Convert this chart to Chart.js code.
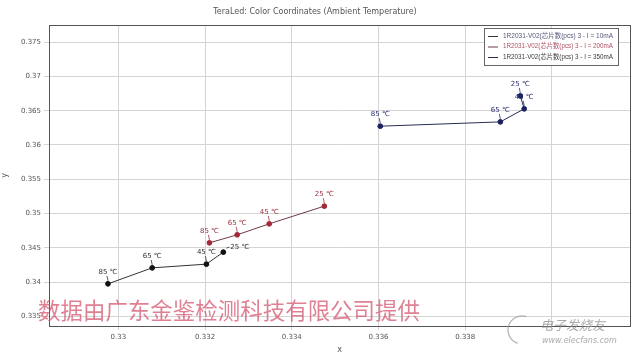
<!DOCTYPE html>
<html>
<head>
<meta charset="utf-8">
<script src="https://cdn.jsdelivr.net/npm/chart.js@4"></script>
<style>
  html, body { margin: 0; padding: 0; background: #fff; }
  #wrap { width: 640px; height: 360px; position: relative; }
</style>
</head>
<body>
<div id="wrap"><canvas id="colorChart"></canvas></div>
<script>
// temperatures of each point (deg C)
const temps = ['85', '65', '45', '25'];

// I = 10mA
const x10 = [0.32976, 0.33078, 0.33203, 0.33242];
const y10 = [0.33975, 0.34208, 0.34262, 0.34437];
// I = 200mA
const x200 = [0.3321, 0.33274, 0.33348, 0.33475];
const y200 = [0.34573, 0.3469, 0.3485, 0.35108];
// I = 350mA
const x350 = [0.33604, 0.33881, 0.33936, 0.33927];
const y350 = [0.36274, 0.36337, 0.36527, 0.36716];

const seriesNames = [
    '1R2031-V02(芯片数(pcs) 3 - I = 10mA',
    '1R2031-V02(芯片数(pcs) 3 - I = 200mA',
    '1R2031-V02(芯片数(pcs) 3 - I = 350mA'
];

const xTicks = [0.33, 0.332, 0.334, 0.336, 0.338, 0.34];
const xTickLabels = ['0.33', '0.332', '0.334', '0.336', '0.338', ''];
const yTicks = [0.335, 0.34, 0.345, 0.35, 0.355, 0.36, 0.365, 0.37, 0.375];
const yTickLabels = ['0.335', '0.34', '0.345', '0.35', '0.355', '0.36', '0.365', '0.37', '0.375'];

const watermark = '数据由广东金鉴检测科技有限公司提供';

function toPoints(xs, ys) {
    return xs.map(function(x, i) { return { x: x, y: ys[i] }; });
}

const labelColors = ['#333333', '#a03444', '#2a3070'];
const legendTextColors = ['#55597a', '#b05262', '#3a3a3a'];

// point labels like "85 ℃", drawn under the markers
const pointLabels = {
    id: 'pointLabels',
    beforeDatasetsDraw: function(chart) {
        const ctx = chart.ctx;
        ctx.save();
        ctx.font = '7px "DejaVu Sans", sans-serif';
        ctx.textBaseline = 'middle';
        chart.data.datasets.forEach(function(ds, di) {
            const meta = chart.getDatasetMeta(di);
            meta.data.forEach(function(pt, i) {
                const text = temps[i] + ' ℃';
                ctx.fillStyle = labelColors[di];
                ctx.strokeStyle = labelColors[di];
                ctx.lineWidth = 0.8;
                if (di === 0 && i === 3) {
                    ctx.textAlign = 'left';
                    ctx.beginPath();
                    ctx.moveTo(pt.x + 3, pt.y - 4);
                    ctx.lineTo(pt.x + 6, pt.y - 5);
                    ctx.stroke();
                    ctx.fillText(text, pt.x + 7, pt.y - 5);
                } else {
                    ctx.textAlign = 'center';
                    ctx.fillText(text, pt.x, pt.y - 12);
                    ctx.beginPath();
                    ctx.moveTo(pt.x - 1, pt.y - 8);
                    ctx.lineTo(pt.x, pt.y - 3);
                    ctx.stroke();
                }
            });
        });
        ctx.restore();
    }
};

// frame, legend box, watermark and logo
const extras = {
    id: 'extras',
    afterDraw: function(chart) {
        const ctx = chart.ctx;
        const a = chart.chartArea;
        ctx.save();
        ctx.strokeStyle = '#555';
        ctx.lineWidth = 1;
        ctx.strokeRect(Math.round(a.left) + 0.5, Math.round(a.top) + 0.5,
            Math.round(a.right - a.left), Math.round(a.bottom - a.top));

        // legend in the upper right corner
        const bx = 484, by = 28, bw = 134, bh = 37;
        ctx.fillStyle = '#fff';
        ctx.fillRect(bx, by, bw, bh);
        ctx.strokeStyle = '#666';
        ctx.strokeRect(bx + 0.5, by + 0.5, bw, bh);
        ctx.font = '6.5px "Liberation Sans", "Noto Sans CJK SC", sans-serif';
        ctx.textBaseline = 'middle';
        ctx.textAlign = 'left';
        chart.data.datasets.forEach(function(ds, i) {
            const ly = by + 8 + i * 10.5;
            ctx.strokeStyle = ds.borderColor;
            ctx.beginPath();
            ctx.moveTo(bx + 4, ly + 0.5);
            ctx.lineTo(bx + 14, ly + 0.5);
            ctx.stroke();
            ctx.fillStyle = legendTextColors[i];
            ctx.fillText(ds.label, bx + 19, ly, bw - 24);
        });

        // watermark
        ctx.font = '23px "Noto Sans CJK SC", sans-serif';
        ctx.fillStyle = 'rgba(210, 80, 105, 0.72)';
        ctx.textBaseline = 'middle';
        ctx.fillText(watermark, 38, 310, 382);

        // site logo
        ctx.strokeStyle = 'rgba(150,150,150,0.7)';
        ctx.lineWidth = 1.2;
        ctx.beginPath();
        ctx.arc(522, 330, 14, Math.PI * 0.6, Math.PI * 1.6);
        ctx.stroke();
        ctx.fillStyle = 'rgba(140,140,140,0.75)';
        ctx.font = 'italic 13px "Noto Sans CJK SC", sans-serif';
        ctx.fillText('电子发烧友', 540, 325);
        ctx.font = 'italic 8px "DejaVu Sans", sans-serif';
        ctx.fillText('www.elecfans.com', 542, 341);
        ctx.restore();
    }
};

document.addEventListener('DOMContentLoaded', function() {
    const ctx = document.getElementById('colorChart').getContext('2d');
    new Chart(ctx, {
        type: 'scatter',
        data: {
            datasets: [
                {
                    label: seriesNames[0],
                    data: toPoints(x10, y10),
                    showLine: true,
                    borderColor: '#333333',
                    borderWidth: 1,
                    pointBackgroundColor: '#111111',
                    pointBorderColor: '#111111',
                    pointRadius: 2.4
                },
                {
                    label: seriesNames[1],
                    data: toPoints(x200, y200),
                    showLine: true,
                    borderColor: '#6e3a44',
                    borderWidth: 1,
                    pointBackgroundColor: '#a4283a',
                    pointBorderColor: '#a4283a',
                    pointRadius: 2.4
                },
                {
                    label: seriesNames[2],
                    data: toPoints(x350, y350),
                    showLine: true,
                    borderColor: '#2a2f50',
                    borderWidth: 1,
                    pointBackgroundColor: '#1c2260',
                    pointBorderColor: '#1c2260',
                    pointRadius: 2.4
                }
            ]
        },
        options: {
            responsive: true,
            maintainAspectRatio: false,
            animation: false,
            layout: { padding: { left: 0, right: 10, top: 0, bottom: 0 } },
            scales: {
                x: {
                    type: 'linear',
                    min: 0.3284,
                    max: 0.3418,
                    afterBuildTicks: function(scale) {
                        scale.ticks = xTicks.map(function(v) { return { value: v }; });
                    },
                    afterFit: function(scale) { scale.height = 34; },
                    ticks: {
                        callback: function(v) {
                            const i = xTicks.findIndex(function(t) { return Math.abs(t - v) < 1e-9; });
                            return i >= 0 ? xTickLabels[i] : '';
                        },
                        font: { size: 7, family: 'DejaVu Sans' },
                        color: '#555',
                        maxRotation: 0,
                        padding: 3
                    },
                    grid: { color: '#d4d4d4', tickLength: 4 },
                    border: { display: false },
                    title: {
                        display: true,
                        text: 'x',
                        font: { size: 8, family: 'DejaVu Sans' },
                        color: '#555',
                        padding: { top: 0, bottom: 5 }
                    }
                },
                y: {
                    type: 'linear',
                    min: 0.3336,
                    max: 0.3775,
                    afterBuildTicks: function(scale) {
                        scale.ticks = yTicks.map(function(v) { return { value: v }; });
                    },
                    afterFit: function(scale) { scale.width = 49; },
                    ticks: {
                        callback: function(v) {
                            const i = yTicks.findIndex(function(t) { return Math.abs(t - v) < 1e-9; });
                            return i >= 0 ? yTickLabels[i] : '';
                        },
                        font: { size: 7, family: 'DejaVu Sans' },
                        color: '#555',
                        padding: 3
                    },
                    grid: { color: '#d4d4d4', tickLength: 5 },
                    border: { display: false },
                    title: {
                        display: true,
                        text: 'y',
                        font: { size: 8, family: 'DejaVu Sans' },
                        color: '#555',
                        padding: { top: 0, bottom: 0 }
                    }
                }
            },
            plugins: {
                legend: { display: false },
                tooltip: { enabled: false },
                title: {
                    display: true,
                    text: 'TeraLed: Color Coordinates (Ambient Temperature)',
                    font: { size: 8, family: 'DejaVu Sans', weight: 'normal' },
                    color: '#555',
                    padding: { top: 7, bottom: 8.4 }
                }
            }
        },
        plugins: [pointLabels, extras]
    });
});
</script>
</body>
</html>
